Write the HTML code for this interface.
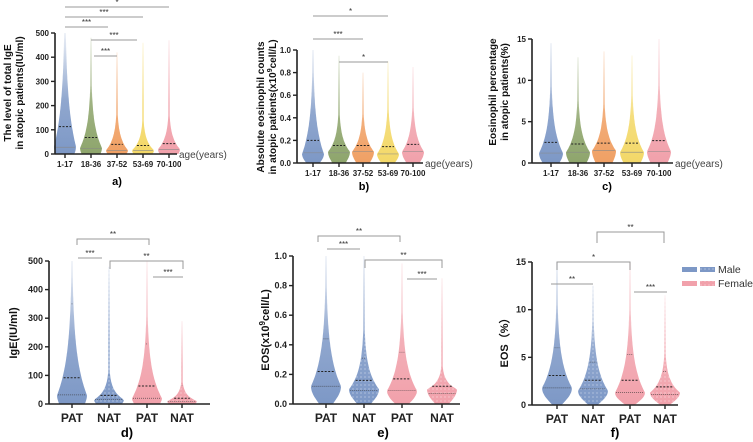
<!DOCTYPE html>
<html><head><meta charset="utf-8">
<style>
html,body{margin:0;padding:0;background:#fff;}
svg{display:block;font-family:"Liberation Sans",Arial,sans-serif;}
.tk{font-size:8px;font-weight:bold;fill:#222;}
.tkb{font-size:9px;font-weight:bold;fill:#222;}
.yl{font-size:10px;font-weight:bold;fill:#111;}
.ylb{font-size:11px;font-weight:bold;fill:#111;}
.sg{font-size:8px;fill:#333;}
</style></head>
<body>
<svg id="fig" width="753" height="442" viewBox="0 0 753 442">
<defs>
<pattern id="dots" width="4" height="4" patternUnits="userSpaceOnUse"><circle cx="1" cy="1" r="0.6" fill="#fff" opacity="0.6"/></pattern>
</defs>
</svg>
<script>
// ---- data ----
const ageCats=["1-17","18-36","37-52","53-69","70-100"];
const sexCats=["PAT","NAT","PAT","NAT"];
const ageColors=["#7d98c6","#8ea56c","#f0a064","#f3d868","#f1a1ab"];
const sexColors=["#7d98c6","#7d98c6","#f1a1ab","#f1a1ab"];
const sexDotted=[false,true,false,true];
const yTicksA=[0,100,200,300,400,500];
const yTicksB=[0,0.2,0.4,0.6,0.8,1.0];
const yTicksC=[0,5,10,15];
// panel a (IgE by age)
const aMax=[500,480,420,460,470];
const aMed=[113,68,40,35,43];
const aQ1=[28,22,15,14,18];
const aMode=[30,25,15,15,20];
// panel b (EOS count by age)
const bMax=[1.0,0.95,0.8,0.9,0.85];
const bMed=[0.2,0.155,0.155,0.145,0.165];
const bQ1=[0.09,0.09,0.1,0.08,0.1];
const bMode=[0.08,0.1,0.1,0.08,0.1];
// panel c (EOS % by age)
const cMax=[14.5,12.8,13.5,13,15];
const cMed=[2.5,2.3,2.4,2.4,2.7];
const cQ1=[1.2,1.3,1.5,1.3,1.4];
const cMode=[1.2,1.3,1.5,1.3,1.4];
// panel d (IgE by sex)
const dMax=[500,480,500,290];
const dMed=[92,30,63,20];
const dQ1=[32,15,20,8];
const dQ3=[350,100,210,65];
const dMode=[30,15,20,10];
// panel e (EOS count by sex)
const eMax=[1.0,1.0,0.95,0.85];
const eMed=[0.22,0.16,0.17,0.12];
const eQ1=[0.12,0.09,0.09,0.07];
const eQ3=[0.44,0.31,0.35,0.23];
const eMode=[0.12,0.1,0.09,0.1];
// panel f (EOS % by sex)
const fMax=[15,12.5,15,11.5];
const fMed=[3.1,2.6,2.6,1.9];
const fQ1=[1.8,1.7,1.3,1.1];
const fQ3=[6,4.5,5.3,3.5];
const fMode=[1.8,1.5,1.3,1.3];

const NS="http://www.w3.org/2000/svg";
const svg=document.getElementById('fig');
function mk(tag,attrs,parent){const e=document.createElementNS(NS,tag);for(const k in attrs)e.setAttribute(k,attrs[k]);(parent||svg).appendChild(e);return e;}
let gid=0;

function panel(p){
  const g=mk('g',{});
  
  
  const ys=v=>p.y0-(v-0)/(p.ymax)*(p.y0-p.y1);
  const xs=i=>p.xs[i];
  p.cats.forEach((c,i)=>{
    const mx=p.max[i],mode=p.mode[i],med=p.med[i];
    const d=Math.max((med-mode)*2.2,mx*0.06);
    const W=p.W;
    const pts=[];const N=80;
    for(let k=0;k<=N;k++){
      const v=mx*k/N;let w;
      if(v<mode) w=W*(p.base+(1-p.base)*Math.sin(Math.PI/2*v/mode));
      else w=W*Math.exp(-(v-mode)/d);
      w=Math.max(w,0.7);
      pts.push([v,w]);
    }
    const id='gr'+(gid++);
    const lg=mk('linearGradient',{id:id,x1:0,y1:1,x2:0,y2:0},svg.querySelector('defs'));
    mk('stop',{offset:'0','stop-color':p.colors[i],'stop-opacity':1},lg);
    mk('stop',{offset:'0.45','stop-color':p.colors[i],'stop-opacity':0.85},lg);
    mk('stop',{offset:'1','stop-color':p.colors[i],'stop-opacity':0.15},lg);
    let dstr='M'+xs(i)+','+ys(0);
    pts.forEach(q=>dstr+=' L'+(xs(i)+q[1]).toFixed(1)+','+ys(q[0]).toFixed(1));
    for(let k=pts.length-1;k>=0;k--)dstr+=' L'+(xs(i)-pts[k][1]).toFixed(1)+','+ys(pts[k][0]).toFixed(1);
    dstr+='Z';
    const vp=mk('path',{d:dstr,fill:'url(#'+id+')'},g);
    
    
    if(p.dotted&&p.dotted[i]){mk('path',{d:dstr,fill:'url(#dots)'},g);}
    const wAt=v=>{let best=pts[0];pts.forEach(q=>{if(Math.abs(q[0]-v)<Math.abs(best[0]-v))best=q;});return best[1];};
    const ml=mk('line',{x1:xs(i)-wAt(med)+1,x2:xs(i)+wAt(med)-1,y1:ys(med),y2:ys(med),stroke:'#222','stroke-width':1,'stroke-dasharray':'2,1.5'},g);
    
    
    if(p.q1){mk('line',{x1:xs(i)-wAt(p.q1[i])+1,x2:xs(i)+wAt(p.q1[i])-1,y1:ys(p.q1[i]),y2:ys(p.q1[i]),stroke:p.q3?'#333':'#888','stroke-width':0.7,'stroke-dasharray':p.q3?'1,1':'none',opacity:0.8},g);}
    if(p.q3){mk('line',{x1:xs(i)-wAt(p.q3[i])+1,x2:xs(i)+wAt(p.q3[i])-1,y1:ys(p.q3[i]),y2:ys(p.q3[i]),stroke:'#333','stroke-width':0.7,'stroke-dasharray':'1,1',opacity:0.7},g);}
  });
  const ya=mk('line',{x1:p.ax,x2:p.ax,y1:p.y1,y2:p.y0,stroke:'#222','stroke-width':1.6},g);
  
  
  const xa=mk('line',{x1:p.ax,x2:p.xend,y1:p.y0,y2:p.y0,stroke:'#222','stroke-width':1.6},g);
  
  
  p.ticks.forEach(t=>{
    mk('line',{x1:p.ax-4,x2:p.ax,y1:ys(t),y2:ys(t),stroke:'#222','stroke-width':1.4},g);
    const tx=mk('text',{x:p.ax-6,y:ys(t)+3,'text-anchor':'end',class:p.big?'tkb':'tk'},g);
    tx.textContent=(p.dec?t.toFixed(1):t);
    
    
  });
  p.cats.forEach((c,i)=>{
    mk('line',{x1:xs(i),x2:xs(i),y1:p.y0,y2:p.y0+4,stroke:'#222','stroke-width':1.4},g);
    const tx=mk('text',{x:xs(i),y:p.y0+p.lblOff,'text-anchor':'middle',class:'tk',style:p.big?'font-size:12px':''},g);
    tx.textContent=c;
    
    
  });
  if(p.age){const t=mk('text',{x:p.xend+2,y:p.y0+4,style:'font-size:10px;fill:#444'},g);t.textContent='age(years)';
    }
  const pl=mk('text',{x:p.plx,y:p.ply,'text-anchor':'middle',style:'font-size:'+(p.big?13:11)+'px;font-weight:bold'},g);
  pl.textContent=p.letter;
  
  
  p.ylab.forEach((s,k)=>{
    const t=mk('text',{x:0,y:0,'text-anchor':'middle',class:p.big?'ylb':'yl',transform:'translate('+s[1]+','+p.ylc+') rotate(-90)'},g);
    t.innerHTML=s[0];
    
    
  });
  p.sig.forEach(s=>{
    const [x1,x2,y,txt,br]=s;
    let d='M'+x1+','+(br?y+br:y)+' L'+x1+','+y+' L'+x2+','+y+(br?' L'+x2+','+(y+br):'');
    const l=mk('path',{d:d,fill:'none',stroke:'#999','stroke-width':1},g);
    
    
    const t=mk('text',{x:(x1+x2)/2,y:y-2,'text-anchor':'middle',class:'sg'},g);
    t.textContent=txt;
    
    
  });
}

panel({name:'panel-a-ige-by-age',cats:ageCats,colors:ageColors,max:aMax,med:aMed,q1:aQ1,mode:aMode,
  ax:55,xend:177,y0:154,y1:33,ymax:500,ticks:yTicksA,xs:[65,91,117,143,169],W:11,base:0.85,lblOff:13,age:true,
  plx:117,ply:185,letter:'a)',ylab:[['The level of total IgE',11],['in atopic patients(IU/ml)',23]],ylc:93,
  sig:[[65,169,7,'*'],[65,143,17,'***'],[65,108,27,'***'],[91,137,40,'***'],[94,117,56,'***']]});
panel({name:'panel-b-eos-count-by-age',cats:ageCats,colors:ageColors,max:bMax,med:bMed,q1:bQ1,mode:bMode,dec:true,
  ax:297,xend:423,y0:163,y1:50,ymax:1.0,ticks:yTicksB,xs:[313,339,363,388,413],W:11,base:0.6,lblOff:13,age:true,
  plx:364,ply:190,letter:'b)',ylab:[['Absolute eosinophil counts',264],['in atopic patients(x10<tspan dy="-4" style="font-size:7px">9</tspan><tspan dy="4">cell/L)</tspan>',276]],ylc:107,
  sig:[[313,388,16,'*'],[313,363,39,'***'],[339,388,62,'*']]});
panel({name:'panel-c-eos-percent-by-age',cats:ageCats,colors:ageColors,max:cMax,med:cMed,q1:cQ1,mode:cMode,
  ax:532,xend:673,y0:163,y1:39,ymax:15,ticks:yTicksC,xs:[551,578,604,632,659],W:12,base:0.7,lblOff:13,age:true,
  plx:607,ply:190,letter:'c)',ylab:[['Eosinophil percentage',496],['in atopic patients(%)',508]],ylc:92,sig:[]});
panel({name:'panel-d-ige-by-sex',cats:sexCats,colors:sexColors,dotted:sexDotted,max:dMax,med:dMed,q1:dQ1,q3:dQ3,mode:dMode,big:true,
  ax:49,xend:210,y0:404,y1:261,ymax:500,ticks:yTicksA,xs:[72,109,147,182],W:15,base:0.85,lblOff:18,
  plx:127,ply:437,letter:'d)',ylab:[['IgE(IU/ml)',17]],ylc:333,
  sig:[[77,149,239,'**',6],[78,102,258,'***'],[110,183,261,'**',8],[153,183,277,'***']]});
panel({name:'panel-e-eos-count-by-sex',cats:sexCats,colors:sexColors,dotted:sexDotted,max:eMax,med:eMed,q1:eQ1,q3:eQ3,mode:eMode,dec:true,big:true,
  ax:293,xend:460,y0:404,y1:256,ymax:1.0,ticks:yTicksB,xs:[326,364,402,442],W:15,base:0.45,lblOff:18,
  plx:383,ply:437,letter:'e)',ylab:[['EOS(x10<tspan dy="-4" style="font-size:8px">9</tspan><tspan dy="4">cell/L)</tspan>',269]],ylc:330,
  sig:[[318,400,236,'**',6],[327,360,249,'***'],[365,442,260,'**',8],[407,437,279,'***']]});
panel({name:'panel-f-eos-percent-by-sex',cats:sexCats,colors:sexColors,dotted:sexDotted,max:fMax,med:fMed,q1:fQ1,q3:fQ3,mode:fMode,big:true,
  ax:532,xend:678,y0:405,y1:262,ymax:15,ticks:yTicksC,xs:[557,593,630,665],W:15,base:0.3,lblOff:18,
  plx:615,ply:437,letter:'f)',ylab:[['EOS（%）',508]],ylc:340,
  sig:[[597,664,232,'**',11],[557,630,262,'*',8],[551,593,284,'**'],[634,667,292,'***']]});

const lg=mk('g',{});


[['Male','#7d98c6',269],['Female','#f1a1ab',283]].forEach(r=>{
  const e=mk('g',{},lg);
  
  
  mk('rect',{x:682,y:r[2]-2,width:15,height:5,fill:r[1]},e);
  mk('rect',{x:700,y:r[2]-2,width:15,height:5,fill:r[1]},e);
  mk('rect',{x:700,y:r[2]-2,width:15,height:5,fill:'url(#dots)'},e);
  const t=mk('text',{x:718,y:r[2]+4,style:'font-size:10.5px;fill:#333'},e);
  t.textContent=r[0];
});
</script>
</body></html>
